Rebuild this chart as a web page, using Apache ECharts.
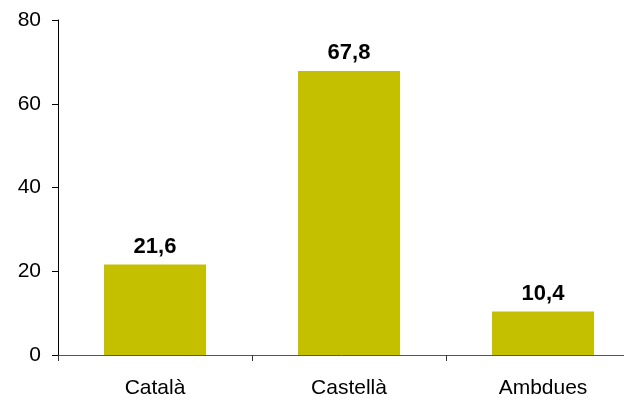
<!DOCTYPE html>
<html>
<head>
<meta charset="utf-8">
<script src="https://cdn.jsdelivr.net/npm/echarts@6/dist/echarts.min.js"></script>
<style>
html,body{margin:0;padding:0;background:#fff;}
#c{width:624px;height:401px;}
</style>
</head>
<body>
<div id="c"></div>
<script>
var categories = ['Català', 'Castellà', 'Ambdues'];
var values = [21.6, 67.8, 10.4];
var yTicks = [0, 20, 40, 60, 80];

var chart = echarts.init(document.getElementById('c'), null, {renderer: 'canvas'});
chart.setOption({
  animation: false,
  backgroundColor: '#ffffff',
  textStyle: {fontFamily: 'Liberation Sans, Arial, sans-serif'},
  grid: {left: 58, top: 20, width: 582, height: 335, containLabel: false, outerBoundsMode: 'none'},
  xAxis: {
    type: 'category',
    data: categories,
    axisLine: {show: true, lineStyle: {color: '#555555', width: 1}},
    axisTick: {show: true, alignWithLabel: false, length: 6, inside: false, lineStyle: {color: '#333333'}},
    axisLabel: {color: '#000', fontSize: 21, margin: 23, fontFamily: 'Liberation Sans, Arial, sans-serif'},
    splitLine: {show: false}
  },
  yAxis: {
    type: 'value',
    min: yTicks[0],
    max: yTicks[yTicks.length - 1],
    interval: 20,
    axisLine: {show: true, lineStyle: {color: '#000', width: 1}},
    axisTick: {show: true, length: 6, lineStyle: {color: '#000'}},
    axisLabel: {color: '#000', fontSize: 21, margin: 17, fontFamily: 'Liberation Sans, Arial, sans-serif'},
    splitLine: {show: false}
  },
  series: [{
    type: 'bar',
    data: values,
    barWidth: 102,
    itemStyle: {color: '#C4C000'},
    label: {
      show: true,
      position: 'top',
      distance: 7,
      color: '#000',
      fontWeight: 'bold',
      fontSize: 22,
      fontFamily: 'Liberation Sans, Arial, sans-serif',
      formatter: function (p) { return String(p.value).replace('.', ','); }
    }
  }]
});
</script>
</body>
</html>
